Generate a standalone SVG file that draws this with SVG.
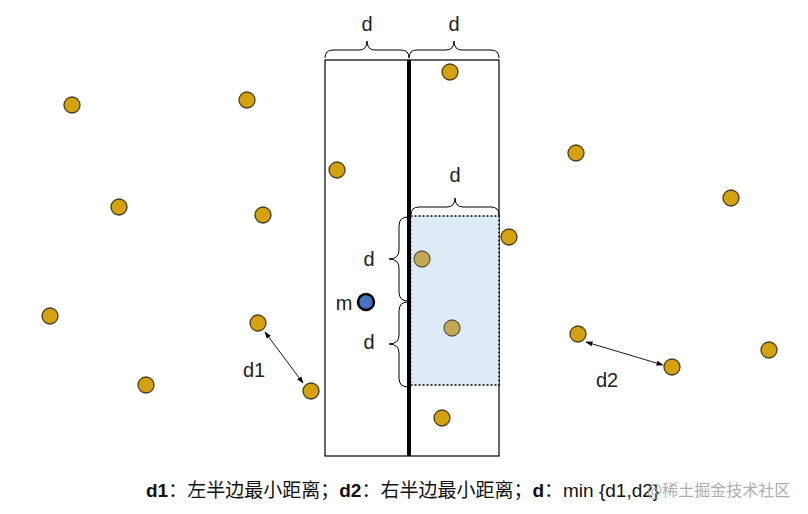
<svg xmlns="http://www.w3.org/2000/svg" width="808" height="514" viewBox="0 0 808 514">
<defs>
<style>
.pt{fill:#D4A20F;stroke:#4a3c1a;stroke-width:1.3}
.pm{fill:#C2AA52;stroke:#5e5a48;stroke-width:1.3}
.br{fill:none;stroke:#000;stroke-width:1}
.lbl{font-family:"Liberation Sans",Arial,sans-serif;font-size:20px;fill:#222}
.cap{font-family:"Liberation Sans","Noto Sans CJK SC",sans-serif;font-size:19px;fill:#111}
</style>
<marker id="ah" viewBox="0 0 10 10" refX="9" refY="5" markerWidth="8" markerHeight="8" orient="auto-start-reverse"><path d="M0,1.5 L10,5 L0,8.5 z" fill="#000"/></marker>
</defs>
<rect width="808" height="514" fill="#fff"/>
<g id="strips">
<rect x="325" y="60" width="174" height="396" fill="none" stroke="#000" stroke-width="1.2"/>
<rect id="zone" x="410.5" y="216" width="88.5" height="169" fill="#DDEBF7" stroke="#000" stroke-width="1.5" stroke-dasharray="2,2"/>
<line x1="409" y1="60" x2="409" y2="456" stroke="#000" stroke-width="4"/>
</g>
<g id="braces">
<path class="br" d="M325,58 Q325,50 333,50 L359,50 Q367,50 367,41 Q367,50 375,50 L401,50 Q409,50 409,58"/>
<path class="br" d="M409,58 Q409,50 417,50 L446,50 Q454,50 454,41 Q454,50 462,50 L491,50 Q499,50 499,58"/>
<path class="br" d="M411,215 Q411,207 419,207 L447,207 Q455,207 455,198 Q455,207 463,207 L491,207 Q499,207 499,215"/>
<path class="br" d="M408,217 Q399,217 399,226 L399,250 Q399,259 389,259 Q399,259 399,268 L399,292 Q399,301 408,301"/>
<path class="br" d="M408,302 Q399,302 399,311 L399,335 Q399,344 389,344 Q399,344 399,353 L399,378 Q399,387 408,387"/>
</g>
<g id="points">
<circle class="pt" cx="72" cy="105" r="8"/>
<circle class="pt" cx="247" cy="100" r="8"/>
<circle class="pt" cx="450" cy="72" r="8"/>
<circle class="pt" cx="337" cy="170" r="8"/>
<circle class="pt" cx="576" cy="153" r="8"/>
<circle class="pt" cx="119" cy="207" r="8"/>
<circle class="pt" cx="263" cy="215" r="8"/>
<circle class="pt" cx="731" cy="198" r="8"/>
<circle class="pt" cx="509" cy="237" r="8"/>
<circle class="pm" cx="422" cy="259" r="8"/>
<circle class="pt" cx="50" cy="316" r="8"/>
<circle class="pt" cx="258" cy="323" r="8"/>
<circle class="pm" cx="452" cy="328" r="8"/>
<circle class="pt" cx="578" cy="334" r="8"/>
<circle class="pt" cx="672" cy="367" r="8"/>
<circle class="pt" cx="769" cy="350" r="8"/>
<circle class="pt" cx="146" cy="385" r="8"/>
<circle class="pt" cx="311" cy="391" r="8"/>
<circle class="pt" cx="442" cy="418" r="8"/>
</g>
<g id="m">
<circle cx="366" cy="302" r="8" fill="#4472C4" stroke="#000" stroke-width="2.5"/>
<text class="lbl" x="344" y="310" text-anchor="middle">m</text>
</g>
<g id="connectors">
<line x1="265" y1="332" x2="303" y2="383" stroke="#000" stroke-width="0.9" marker-start="url(#ah)" marker-end="url(#ah)"/>
<line x1="586" y1="342" x2="663" y2="365" stroke="#000" stroke-width="0.9" marker-start="url(#ah)" marker-end="url(#ah)"/>
</g>
<g id="labels">
<text class="lbl" x="367" y="31" text-anchor="middle">d</text>
<text class="lbl" x="454" y="31" text-anchor="middle">d</text>
<text class="lbl" x="455" y="182" text-anchor="middle">d</text>
<text class="lbl" x="369" y="266" text-anchor="middle">d</text>
<text class="lbl" x="369" y="349" text-anchor="middle">d</text>
<text class="lbl" x="254" y="377" text-anchor="middle">d1</text>
<text class="lbl" x="607" y="387" text-anchor="middle">d2</text>
</g>
<g id="caption">
<text class="cap" x="146" y="497"><tspan font-weight="bold">d1</tspan>：左半边最小距离；<tspan font-weight="bold">d2</tspan>：右半边最小距离；<tspan font-weight="bold">d</tspan>：min {d1,d2}</text>
<text x="647" y="496" font-family="'Noto Sans CJK SC',sans-serif" font-size="16px" fill="#a0a0a0" opacity="0.85">@稀土掘金技术社区</text>
</g>
</svg>
